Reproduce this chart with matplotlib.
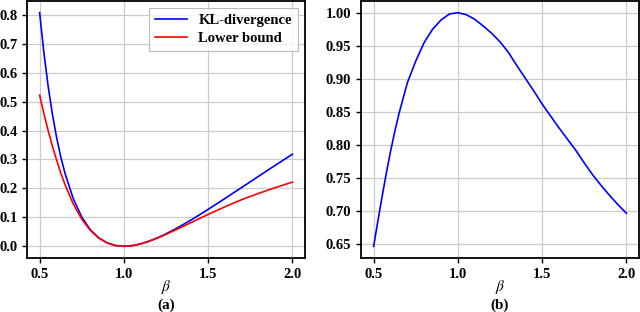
import matplotlib
matplotlib.use("Agg")
import matplotlib.pyplot as plt
import numpy as np

# ============================================================
# Data
# ============================================================
beta = [0.500, 0.525, 0.550, 0.575, 0.600, 0.625, 0.65, 0.70, 0.75, 0.80, 0.85, 0.90, 0.95,
        1.00, 1.05, 1.10, 1.15, 1.20, 1.25, 1.30, 1.35, 1.40, 1.45,
        1.50, 1.55, 1.60, 1.65, 1.70, 1.75, 1.80, 1.85, 1.90, 1.95, 2.00]

kl_div = [0.807, 0.670, 0.555, 0.459, 0.378, 0.310, 0.253, 0.164, 0.101, 0.058, 0.0295, 0.0119, 0.0027,
          0.000, 0.0023, 0.0085, 0.0179, 0.0295, 0.0431, 0.0583, 0.0744, 0.0916, 0.1094,
          0.1277, 0.1464, 0.1653, 0.1845, 0.2036, 0.2229, 0.2421, 0.2613, 0.2804, 0.2993, 0.318]

lower_bound = [0.522, 0.459, 0.401, 0.347, 0.299, 0.254, 0.214, 0.146, 0.094, 0.0555, 0.0288, 0.0118, 0.0027,
               0.000, 0.0023, 0.0084, 0.0175, 0.0286, 0.0412, 0.0548, 0.0685, 0.0825, 0.0965,
               0.110, 0.1236, 0.1365, 0.1493, 0.1613, 0.1723, 0.1828, 0.1931, 0.2030, 0.2125, 0.2217]

ratio = [0.647, 0.685, 0.722, 0.757, 0.790, 0.820, 0.847, 0.894, 0.927, 0.955, 0.975, 0.989, 0.998,
         1.000, 0.997, 0.990, 0.980, 0.969, 0.956, 0.940, 0.920, 0.901, 0.882,
         0.862, 0.844, 0.826, 0.809, 0.792, 0.773, 0.755, 0.739, 0.724, 0.710, 0.697]

left_yticks = [0.0, 0.1, 0.2, 0.3, 0.4, 0.5, 0.6, 0.7, 0.8]
right_yticks = [0.65, 0.70, 0.75, 0.80, 0.85, 0.90, 0.95, 1.00]
xticks = [0.5, 1.0, 1.5, 2.0]

plt.rcParams.update({
    "font.family": "serif",
    "font.serif": ["Liberation Serif", "DejaVu Serif"],
    "font.size": 10.5,
    "mathtext.fontset": "stix",
})

# ============================================================
# Plot
# ============================================================
fig = plt.figure(figsize=(6.4, 3.12), dpi=100)
ax1 = fig.add_axes([27 / 640, 54 / 312, 278 / 640, 257 / 312])
ax2 = fig.add_axes([361 / 640, 54 / 312, 278 / 640, 257 / 312])

ax1.plot(beta, kl_div, color="blue", lw=1.2, label="KL-divergence")
ax1.plot(beta, lower_bound, color="red", lw=1.2, label="Lower bound")
ax1.set_yticks(left_yticks)
ax1.set_yticklabels([f"{v:.1f}" for v in left_yticks], fontweight="bold")
leg = ax1.legend(loc="upper right", fancybox=False, edgecolor="#aaaaaa",
                 handlelength=2.2, borderpad=0.4, labelspacing=0.3,
                 prop={"weight": "bold", "size": 10.5})
leg.get_frame().set_linewidth(0.8)

ax2.plot(beta, ratio, color="blue", lw=1.2)
ax2.set_yticks(right_yticks)
ax2.set_yticklabels([f"{v:.2f}" for v in right_yticks], fontweight="bold")

for ax, tag in [(ax1, "(a)"), (ax2, "(b)")]:
    ax.set_xticks(xticks)
    ax.set_xticklabels([f"{v:.1f}" for v in xticks], fontweight="bold")
    ax.grid(True, color="#cccccc", lw=0.9)
    ax.set_axisbelow(True)
    for sp in ax.spines.values():
        sp.set_linewidth(1.3)
    ax.tick_params(labelsize=10.5, width=1.0, length=3.5)
    pos = ax.get_position()
    xc = (pos.x0 + pos.x1) / 2
    fig.text(xc, 25 / 312, r"$\beta$", ha="center", va="center", fontsize=11)
    fig.text(xc, 7 / 312, tag, ha="center", va="center",
             fontsize=11, fontweight="bold")

fig.savefig("out.png", dpi=100)
